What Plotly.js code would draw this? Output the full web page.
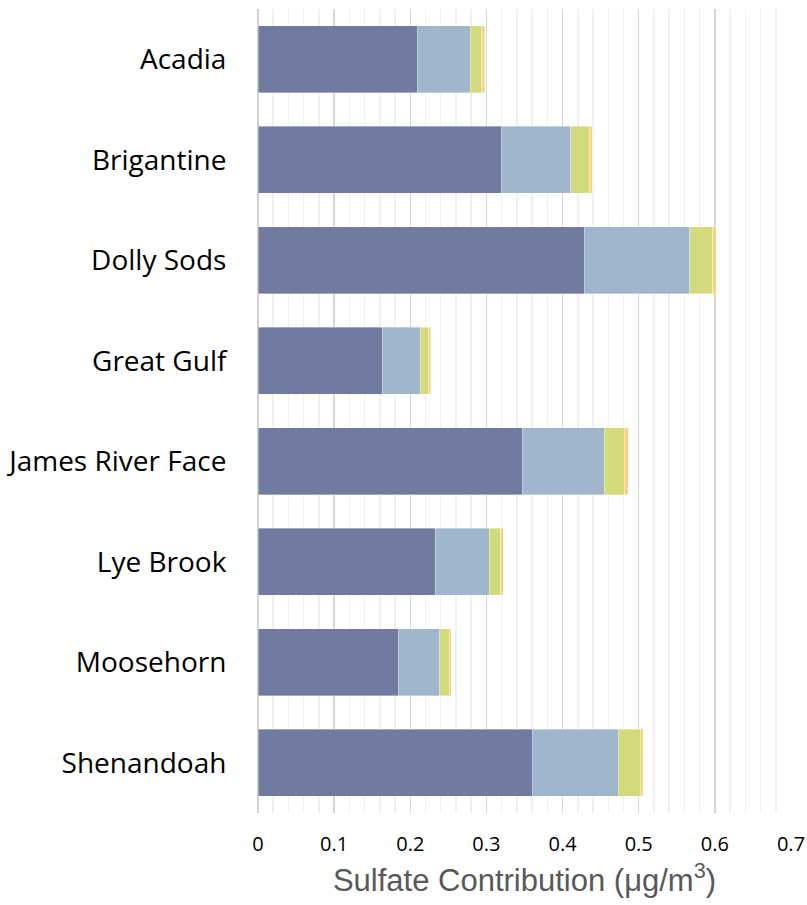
<!DOCTYPE html>
<html>
<head>
<meta charset="utf-8">
<script src="https://cdn.plot.ly/plotly-3.0.1.min.js"></script>
<style>html,body{margin:0;padding:0;background:#fff;}#chart{width:807px;height:905px;}</style>
</head>
<body>
<div id="chart"></div>
<script>
const categories = ["Acadia", "Brigantine", "Dolly Sods", "Great Gulf", "James River Face", "Lye Brook", "Moosehorn", "Shenandoah"];
const series1 = [0.209, 0.320, 0.429, 0.163, 0.347, 0.233, 0.185, 0.361];
const series2 = [0.070, 0.091, 0.138, 0.050, 0.108, 0.071, 0.054, 0.112];
const series3 = [0.015, 0.024, 0.030, 0.011, 0.026, 0.015, 0.012, 0.029];
const series4 = [0.004, 0.004, 0.005, 0.003, 0.005, 0.003, 0.003, 0.004];
const seriesNames = ["Series 1", "Series 2", "Series 3", "Series 4"];
const xTickVals = [0, 0.1, 0.2, 0.3, 0.4, 0.5, 0.6, 0.7];
const xTickText = ["0", "0.1", "0.2", "0.3", "0.4", "0.5", "0.6", "0.7"];

const colors = ["#717BA1", "#A0B6CC", "#D3DA7B", "#F8D47E"];
const allSeries = [series1, series2, series3, series4];
const traces = allSeries.map((vals, i) => ({
  type: "bar",
  orientation: "h",
  name: seriesNames[i],
  y: categories,
  x: vals,
  marker: { color: colors[i], line: { color: "rgba(255,255,255,0.6)", width: 0.6 } },
  hoverinfo: "x+y+name"
}));

const layout = {
  width: 807, height: 905,
  barmode: "stack",
  bargap: 0.33,
  showlegend: false,
  paper_bgcolor: "#ffffff",
  plot_bgcolor: "#ffffff",
  margin: { l: 258, r: 16, t: 9, b: 92 },
  font: { family: "Open Sans, Noto Sans, sans-serif", color: "#000" },
  xaxis: {
    range: [0, 0.7],
    tickvals: xTickVals,
    ticktext: xTickText,
    showgrid: true,
    gridcolor: "#D6D6D6",
    gridwidth: 1.5,
    zeroline: true,
    zerolinecolor: "#D0D0D0",
    zerolinewidth: 1.5,
    showline: false,
    ticks: "outside",
    ticklen: 13,
    tickcolor: "rgba(0,0,0,0)",
    tickfont: { size: 20, color: "#000", family: "Open Sans, sans-serif" },
    minor: { dtick: 0.02, showgrid: true, gridcolor: "#F0F0F0", gridwidth: 1.5 },
    title: { text: "Sulfate Contribution (μg/m<sup>3</sup>)", font: { size: 31, color: "#595959", family: "Liberation Sans, Arial, sans-serif" }, standoff: 13 }
  },
  yaxis: {
    autorange: "reversed",
    showgrid: false,
    zeroline: false,
    showline: false,
    ticks: "outside",
    ticklen: 25,
    tickcolor: "rgba(0,0,0,0)",
    tickfont: { size: 28, color: "#000", family: "Open Sans, sans-serif" }
  }
};

Plotly.newPlot("chart", traces, layout, { displayModeBar: false, staticPlot: true });
</script>
</body>
</html>
